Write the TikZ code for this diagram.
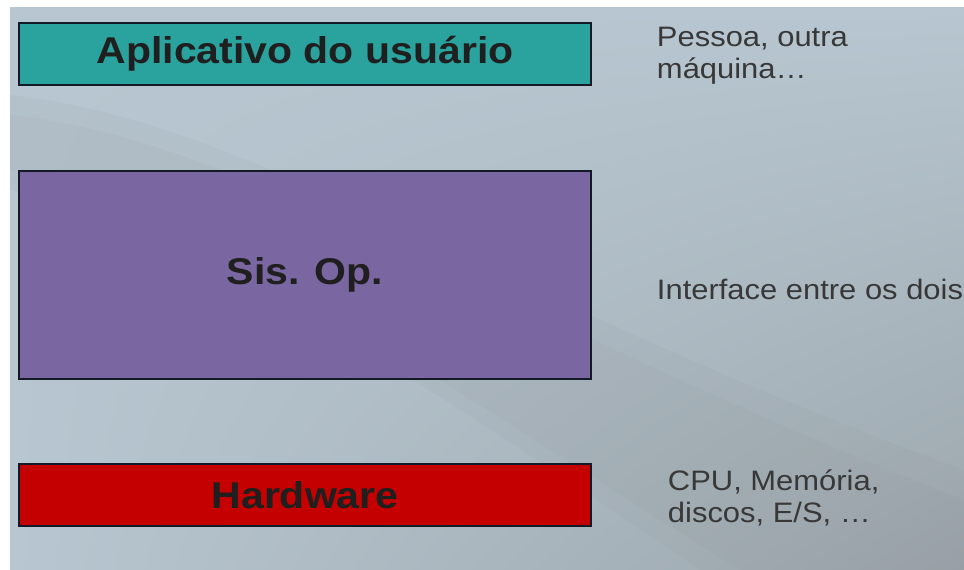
\documentclass[tikz,border=0pt]{standalone}
\usepackage{fontspec}
\setmainfont{Liberation Sans}
\usetikzlibrary{shadings}
\definecolor{slidebg}{RGB}{183,198,208}
\definecolor{slidedark}{RGB}{156,166,172}
\definecolor{appteal}{RGB}{42,163,158}
\definecolor{ospurple}{RGB}{122,102,160}
\definecolor{hwred}{RGB}{196,0,0}
\definecolor{boxline}{RGB}{20,25,40}
\newcommand{\widetext}[1]{\scalebox{1.1}[1]{#1}}
\begin{document}
\begin{tikzpicture}[x=0.025cm,y=-0.025cm,
  layer/.style={draw=boxline,line width=1.4pt,anchor=north west,minimum width=14.3cm,
    font=\fontsize{26.5}{30}\selectfont\bfseries,text=black!88},
  note/.style={anchor=west,align=left,font=\fontsize{20}{22.5}\selectfont,text=black!78}]
  \useasboundingbox (0,0) rectangle (964,570);
  \fill[white] (0,0) rectangle (964,570);
  % slide background
  \shade[upper left=slidebg,upper right=slidebg,lower left=slidebg,lower right=slidedark]
    (10,8) rectangle (964,570);
  \fill[gray,opacity=0.06] (10,95) .. controls (250,120) and (500,300) .. (964,470)
    -- (964,570) -- (700,570) .. controls (450,400) and (200,230) .. (10,190) -- cycle;
  \fill[gray,opacity=0.06] (10,115) .. controls (250,140) and (500,320) .. (964,500)
    -- (964,570) -- (740,570) .. controls (450,390) and (200,210) .. (10,170) -- cycle;
  % layers
  \node[layer,fill=appteal,minimum height=1.55cm] (app) at (18,22) {\widetext{Aplicativo do usuário}};
  \node[layer,fill=ospurple,minimum height=5.2cm] (os) at (18,170) {\widetext{Sis. Op.}};
  \node[layer,fill=hwred,minimum height=1.55cm] (hw) at (18,463) {\widetext{Hardware}};
  % descriptions
  \node[note] (appnote) at (652,56) {\widetext{Pessoa, outra}\\\widetext{máquina\dots}};
  \node[note] (osnote) at (652,289) {\widetext{Interface entre os dois}};
  \node[note] (hwnote) at (663,498) {\widetext{CPU, Memória,}\\\widetext{discos, E/S, \dots}};
\end{tikzpicture}
\end{document}
